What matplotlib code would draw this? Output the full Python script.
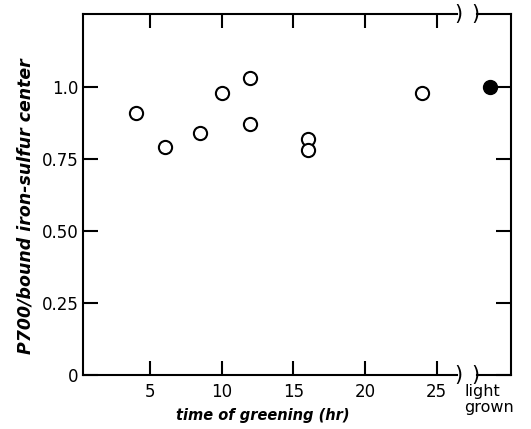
import matplotlib
matplotlib.use("Agg")
import matplotlib.pyplot as plt

# data
hours = [4, 6, 8.5, 10, 12, 12, 16, 16, 24]
ratio = [0.91, 0.79, 0.84, 0.98, 0.87, 1.03, 0.82, 0.78, 0.98]
light_x = 28.7          # position of the "light grown" column
light_ratio = [1.0]
xticks = [5, 10, 15, 20, 25]
yticks = [0, 0.25, 0.5, 0.75, 1.0]
ytick_labels = ['0', '0.25', '0.50', '0.75', '1.0']

W, H = 531, 429
fig = plt.figure(figsize=(W / 100, H / 100), dpi=100)
ax = fig.add_axes([83 / W, 1 - 375 / H, (511 - 83) / W, (375 - 14) / H])
ax.set_xlim(0.3, 30.2)
ax.set_ylim(0, 1.253)

ax.plot(hours, ratio, 'o', mfc='white', mec='black', mew=1.5, ms=9.5, ls='')
ax.plot([light_x], light_ratio, 'o', color='black', ms=10, ls='', clip_on=False)

# spines: left and right normal, top/bottom drawn by hand with breaks
for s in ['top', 'bottom']:
    ax.spines[s].set_visible(False)
for s in ['left', 'right']:
    ax.spines[s].set_linewidth(1.5)

tr = ax.get_xaxis_transform()
brk1, brk2 = 26.4, 27.7
for yy in [0, 1]:
    ax.plot([0.3, brk1], [yy, yy], color='black', lw=1.5, transform=tr, clip_on=False)
    ax.plot([brk2 + 0.15, 30.2], [yy, yy], color='black', lw=1.5, transform=tr, clip_on=False)
    for bx in [brk1 + 0.15, brk2]:
        ax.text(bx, yy, ')', transform=tr, ha='center', va='center',
                fontsize=15, clip_on=False)

ax.set_xticks(xticks)
ax.set_xticklabels([str(v) for v in xticks])
ax.set_yticks(yticks)
ax.set_yticklabels(ytick_labels)
ax.tick_params(axis='both', direction='in', length=10, width=1.5,
               labelsize=12, top=True, right=True, pad=6)
ax.tick_params(axis='y', pad=3, length=11)

ax.set_xlabel('time of greening (hr)', fontsize=10.5, fontweight='bold',
              fontstyle='italic')
ax.xaxis.set_label_coords((263 - 83) / (511 - 83), -(408 - 375) / (375 - 14))
ax.set_ylabel('P700/bound iron-sulfur center', fontsize=12.5, fontweight='bold',
              fontstyle='italic')
ax.yaxis.set_label_coords(-(83 - 35) / (511 - 83), (375 - 206) / (375 - 14))

ax.text(light_x - 1.75, -0.03, 'light\ngrown', transform=ax.transData,
        ha='left', va='top', fontsize=11.5, linespacing=1.1)

fig.savefig('out.png', dpi=100)
